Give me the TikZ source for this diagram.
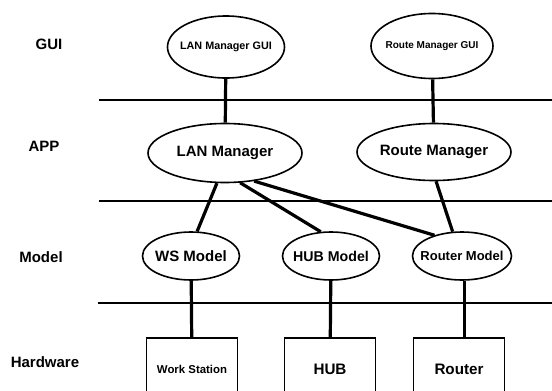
\documentclass[tikz,border=0pt]{standalone}
\usepackage{fontspec}
\setmainfont{Liberation Sans}
\usetikzlibrary{shapes.geometric}

\newcommand{\fsz}[1]{\fontsize{#1}{#1}\selectfont}

\begin{document}
\begin{tikzpicture}[
    x=1pt, y=-1pt,
    tier/.style={font=\bfseries\fsz{15}},
    module/.style={ellipse, draw, line width=1.6pt, inner sep=-16pt, font=\bfseries},
    device/.style={rectangle, draw, line width=1.6pt, minimum width=91pt, minimum height=62pt, font=\bfseries},
    wire/.style={line width=3.2pt},
    bus/.style={line width=2pt}
]
\useasboundingbox (0,0) rectangle (552,391);

% layer names on the left
\node[tier] (tGui) at (49,44) {GUI};
\node[tier] (tApp) at (44,146) {APP};
\node[tier] (tModel) at (41,257) {Model};
\node[tier] (tHw) at (45,362) {Hardware};

% layer separators
\draw[bus] (99,100) -- (552,100);
\draw[bus] (99,201) -- (552,201);
\draw[bus] (98,303) -- (552,303);

% GUI layer
\node[module, minimum width=117pt, minimum height=62pt, font=\bfseries\fsz{10.8}] (lanGui) at (226,47) {LAN Manager GUI};
\node[module, minimum width=122pt, minimum height=65pt, font=\bfseries\fsz{10}] (routeGui) at (432,46) {Route Manager GUI};

% applications
\node[module, minimum width=154pt, minimum height=59pt, font=\bfseries\fsz{15}] (lanMgr) at (225,153) {LAN Manager};
\node[module, minimum width=154pt, minimum height=57pt, font=\bfseries\fsz{15}] (routeMgr) at (434,152) {Route Manager};

% models
\node[module, minimum width=97pt, minimum height=48pt, font=\bfseries\fsz{15}] (wsModel) at (191,256) {WS Model};
\node[module, minimum width=97pt, minimum height=48pt, font=\bfseries\fsz{14.2}] (hubModel) at (331,256) {HUB Model};
\node[module, minimum width=99pt, minimum height=48pt, font=\bfseries\fsz{13}] (routerModel) at (462,256) {Router Model};

% hardware
\node[device, font=\bfseries\fsz{11.4}] (ws) at (192,369) {Work Station};
\node[device, font=\bfseries\fsz{15.2}] (hub) at (330,369) {HUB};
\node[device, font=\bfseries\fsz{15.2}] (router) at (459,369) {Router};

% connections between layers
\draw[wire] (lanGui) -- (lanMgr);
\draw[wire] (routeGui) -- (routeMgr);
\draw[wire] (lanMgr.-105) -- (wsModel.76);
\draw[wire] (lanMgr.-63) -- (hubModel.113);
\draw[wire] (lanMgr.-44) -- (routerModel.143);
\draw[wire] (routeMgr.-86) -- (routerModel.111);
\draw[wire] (wsModel) -- (ws);
\draw[wire] (hubModel) -- (hub);
\draw[wire] (routerModel.-84) -- (router.north -| routerModel.-84);
\end{tikzpicture}
\end{document}
